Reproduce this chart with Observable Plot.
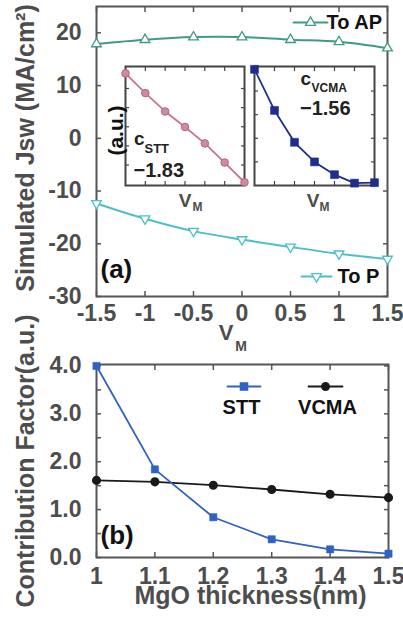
<!DOCTYPE html>
<html>
<head>
<meta charset="utf-8">
<script src="https://cdn.jsdelivr.net/npm/d3@7"></script>
<script src="https://cdn.jsdelivr.net/npm/@observablehq/plot@0.6"></script>
<style>
  html, body { margin: 0; padding: 0; background: #fff; }
  #fig { position: relative; width: 403px; height: 623px; overflow: hidden; }
</style>
</head>
<body>
<div id="fig"></div>
<script>
// Panel (a): simulated switching current density vs. V_M
const vm = [-1.5, -1, -0.5, 0, 0.5, 1, 1.5];
const jswToAP = [17.9, 18.7, 19.2, 19.2, 18.7, 18.3, 17.1];
const jswToP = [-12.35, -15.25, -17.6, -19.2, -20.6, -21.9, -22.9];
const jswTicks = [-30, -20, -10, 0, 10, 20];
const vmTicks = [-1.5, -1, -0.5, 0, 0.5, 1, 1.5];
const seriesA = ["To AP", "To P"];

// Insets: STT and VCMA coefficients vs. V_M (arbitrary units)
const cSTT = [5.79, 4.76, 3.80, 2.99, 2.13, 1.13, 0.10];
const cVCMA = [4.92, 3.18, 1.83, 1.00, 0.46, 0.10, 0.12];
const cSTTSlope = "−1.83";
const cVCMASlope = "−1.56";
const insetXTicks = [-1, -0.5, 0, 0.5, 1];

// Panel (b): contribution factor vs. MgO thickness
const thickness = [1.0, 1.1, 1.2, 1.3, 1.4, 1.5];
const factorSTT = [4.0, 1.84, 0.84, 0.38, 0.17, 0.08];
const factorVCMA = [1.61, 1.58, 1.51, 1.42, 1.32, 1.25];
const factorTicks = [0, 1, 2, 3, 4];
const factorMinorTicks = [0, 0.5, 1, 1.5, 2, 2.5, 3, 3.5, 4];
const seriesB = ["STT", "VCMA"];

const rowsA = vm.map((v, i) => ({vm: v, toAP: jswToAP[i], toP: jswToP[i], stt: cSTT[i], vcma: cVCMA[i]}));
const rowsB = thickness.map((t, i) => ({t, stt: factorSTT[i], vcma: factorVCMA[i]}));

const FONT = "'Liberation Sans', Arial, Helvetica, sans-serif";
const AXIS = "#555";
const LABEL = "#4d4d4d";
const INK = "#111";
const cAP = "#3f9a86", cP = "#4cbfc9";
const cPink = "#c27890", cPinkFill = "#cf8aa0", cPinkEdge = "#b5647e";
const cNavy = "#1f2d8c";
const cBlue = "#2f62c2", cBlack = "#1a1a1a";

const baseStyle = {fontFamily: FONT, fontWeight: "bold", background: "transparent", overflow: "visible"};

// a short horizontal stroke used for legend keys
const segment = {draw(context, l) { context.moveTo(0, 0); context.lineTo(0, -l); }};

// inward-pointing ticks on all four sides of the frame
function boxTicks({xTicks, yTicks, size = 5, stroke = AXIS, strokeWidth = 1.5}) {
  const common = {tickSize: size, fill: "none", stroke, strokeWidth, label: null};
  return [
    Plot.axisY({...common, anchor: "left", ticks: yTicks, dx: size}),
    Plot.axisY({...common, anchor: "right", ticks: yTicks, dx: -size}),
    Plot.axisX({...common, anchor: "bottom", ticks: xTicks, dy: -size}),
    Plot.axisX({...common, anchor: "top", ticks: xTicks, dy: size})
  ];
}

function legendKey({frameAnchor, dx, dy, length, color, symbol, r, fill, rotate = 0, strokeWidth = 2}) {
  return [
    Plot.vector([0], {frameAnchor, dx, dy, length, rotate: 90, anchor: "middle", shape: segment, stroke: color, strokeWidth}),
    Plot.dot([0], {frameAnchor, dx, dy, symbol, r, stroke: color, fill, rotate, strokeWidth: 1.3})
  ];
}

// a single text positioned relative to the frame; the anchor is the text's centre line
function label(text, options) {
  return Plot.text([text], {text: d => d, textAnchor: "middle", lineAnchor: "middle", ...options});
}

const plotA = Plot.plot({
  width: 403, height: 360,
  marginLeft: 96, marginRight: 16, marginTop: 6, marginBottom: 64,
  x: {domain: [-1.5, 1.5]},
  y: {domain: [-30, 25]},
  style: baseStyle,
  marks: [
    ...boxTicks({xTicks: vmTicks, yTicks: jswTicks}),
    Plot.axisY({anchor: "left", ticks: jswTicks, tickSize: 0, tickPadding: 15, tickFormat: String, fontSize: 23, fill: LABEL, label: null}),
    Plot.axisX({anchor: "bottom", ticks: vmTicks, tickSize: 0, tickPadding: 8, tickFormat: String, fontSize: 23, fill: LABEL, label: null}),
    Plot.frame({stroke: AXIS, strokeWidth: 2}),
    Plot.line(rowsA, {x: "vm", y: "toAP", stroke: cAP, strokeWidth: 2, curve: "catmull-rom"}),
    Plot.dot(rowsA, {x: "vm", y: "toAP", symbol: "triangle", r: 3.6, stroke: cAP, fill: "white", strokeWidth: 1.3}),
    Plot.line(rowsA, {x: "vm", y: "toP", stroke: cP, strokeWidth: 2, curve: "catmull-rom"}),
    Plot.dot(rowsA, {x: "vm", y: "toP", symbol: "triangle", rotate: 180, r: 3.6, stroke: cP, fill: "white", strokeWidth: 1.3}),
    ...legendKey({frameAnchor: "top-right", dx: -77, dy: 16, length: 34, color: cAP, symbol: "triangle", r: 3.6, fill: "white"}),
    label(seriesA[0], {frameAnchor: "top-right", textAnchor: "start", dx: -61, dy: 16, fontSize: 20, fill: INK}),
    ...legendKey({frameAnchor: "bottom-right", dx: -71, dy: -20, length: 30, color: cP, symbol: "triangle", rotate: 180, r: 3.6, fill: "white"}),
    label(seriesA[1], {frameAnchor: "bottom-right", textAnchor: "start", dx: -50, dy: -20, fontSize: 20, fill: INK}),
    label("(a)", {frameAnchor: "bottom-left", textAnchor: "start", dx: 4, dy: -27, fontSize: 26, fill: INK}),
    label("Simulated Jsw (MA/cm²)", {frameAnchor: "left", dx: -71, dy: -3.5, rotate: -90, fontSize: 25, fill: LABEL}),
    label("V", {frameAnchor: "bottom", dx: -16, dy: 36, fontSize: 22, fill: LABEL}),
    label("M", {frameAnchor: "bottom", dx: -1, dy: 50, fontSize: 14, fill: LABEL})
  ]
});

const insetSTT = Plot.plot({
  width: 160, height: 160,
  marginLeft: 30, marginRight: 11, marginTop: 11, marginBottom: 30,
  x: {domain: [-1.5, 1.5]},
  y: {domain: [-0.07, 6.15]},
  style: baseStyle,
  marks: [
    ...boxTicks({xTicks: insetXTicks, yTicks: [1, 2, 3, 4, 5], size: 4, stroke: "#444", strokeWidth: 1.2}),
    Plot.frame({stroke: "#444", strokeWidth: 2}),
    Plot.line(rowsA, {x: "vm", y: "stt", stroke: cPink, strokeWidth: 1.8}),
    Plot.dot(rowsA, {x: "vm", y: "stt", r: 3.8, fill: cPinkFill, stroke: cPinkEdge, strokeWidth: 1}),
    label("c", {frameAnchor: "top-left", textAnchor: "start", dx: 8.5, dy: 72.6, fontSize: 19, fill: "#222"}),
    label("STT", {frameAnchor: "top-left", textAnchor: "start", dx: 19, dy: 82, fontSize: 13, fill: "#222"}),
    label(cSTTSlope, {frameAnchor: "top-left", textAnchor: "start", dx: 8, dy: 103.6, fontSize: 20, fill: "#222"}),
    label("(a.u.)", {frameAnchor: "left", dx: -9.7, dy: 4.5, rotate: -90, fontSize: 21, fill: INK}),
    label("V", {frameAnchor: "bottom", dx: 0, dy: 15.6, fontSize: 19, fill: LABEL}),
    label("M", {frameAnchor: "bottom", dx: 12.5, dy: 21.2, fontSize: 12, fill: LABEL})
  ]
});

const insetVCMA = Plot.plot({
  width: 140, height: 160,
  marginLeft: 10, marginRight: 10, marginTop: 11, marginBottom: 30,
  x: {domain: [-1.5, 1.5]},
  y: {domain: [0, 5.04]},
  style: baseStyle,
  marks: [
    ...boxTicks({xTicks: insetXTicks, yTicks: [1, 2, 3, 4], size: 4, stroke: "#444", strokeWidth: 1.2}),
    Plot.frame({stroke: "#444", strokeWidth: 2}),
    Plot.line(rowsA, {x: "vm", y: "vcma", stroke: cNavy, strokeWidth: 1.8}),
    Plot.dot(rowsA, {x: "vm", y: "vcma", symbol: "square", r: 4.5, fill: cNavy, stroke: cNavy, strokeWidth: 0.5}),
    label("c", {frameAnchor: "top-left", textAnchor: "start", dx: 46, dy: 12, fontSize: 19, fill: "#222"}),
    label("VCMA", {frameAnchor: "top-left", textAnchor: "start", dx: 57, dy: 22, fontSize: 12, fill: "#222"}),
    label(cVCMASlope, {frameAnchor: "top-left", textAnchor: "start", dx: 45.5, dy: 41.6, fontSize: 20, fill: "#222"}),
    label("V", {frameAnchor: "bottom", dx: -1.5, dy: 15.6, fontSize: 19, fill: LABEL}),
    label("M", {frameAnchor: "bottom", dx: 10, dy: 21.2, fontSize: 12, fill: LABEL})
  ]
});

const plotB = Plot.plot({
  width: 403, height: 283,
  marginLeft: 96, marginRight: 15, marginTop: 24, marginBottom: 66,
  x: {domain: [1.0, 1.5]},
  y: {domain: [0, 4.03]},
  style: baseStyle,
  marks: [
    ...boxTicks({xTicks: thickness, yTicks: factorMinorTicks}),
    Plot.axisY({anchor: "left", ticks: factorTicks, tickSize: 0, tickPadding: 15, tickFormat: d => d.toFixed(1), fontSize: 23, fill: LABEL, label: null}),
    Plot.axisX({anchor: "bottom", ticks: thickness, tickSize: 0, tickPadding: 10, tickFormat: String, fontSize: 23, fill: LABEL, label: null}),
    Plot.frame({stroke: AXIS, strokeWidth: 2}),
    Plot.line(rowsB, {x: "t", y: "vcma", stroke: cBlack, strokeWidth: 1.8}),
    Plot.dot(rowsB, {x: "t", y: "vcma", r: 3.8, fill: cBlack, stroke: cBlack}),
    Plot.line(rowsB, {x: "t", y: "stt", stroke: cBlue, strokeWidth: 1.8}),
    Plot.dot(rowsB, {x: "t", y: "stt", symbol: "square", r: 4.1, fill: cBlue, stroke: cBlue, strokeWidth: 0.5}),
    ...legendKey({frameAnchor: "top-left", dx: 147.5, dy: 22, length: 33, color: cBlue, symbol: "square", r: 4.1, fill: cBlue, strokeWidth: 1.8}),
    label(seriesB[0], {frameAnchor: "top-left", dx: 145, dy: 42.6, fontSize: 20, fill: INK}),
    ...legendKey({frameAnchor: "top-left", dx: 229, dy: 22, length: 34, color: cBlack, symbol: "circle", r: 3.8, fill: cBlack, strokeWidth: 1.8}),
    label(seriesB[1], {frameAnchor: "top-left", dx: 231, dy: 42.6, fontSize: 20, fill: INK}),
    label("(b)", {frameAnchor: "bottom-left", textAnchor: "start", dx: 4, dy: -22, fontSize: 26, fill: INK}),
    label("Contribution Factor(a.u.)", {frameAnchor: "left", dx: -71, dy: 0, rotate: -90, fontSize: 25, fill: LABEL}),
    label("MgO thickness(nm)", {frameAnchor: "bottom", dx: 8, dy: 38, fontSize: 25, fill: LABEL})
  ]
});

const fig = document.getElementById("fig");
function place(svg, left, top) {
  svg.style.position = "absolute";
  svg.style.left = left + "px";
  svg.style.top = top + "px";
  fig.appendChild(svg);
}
place(plotA, 0, 0);
place(plotB, 0, 340);
place(insetSTT, 95, 55);
place(insetVCMA, 244, 55);
</script>
</body>
</html>
